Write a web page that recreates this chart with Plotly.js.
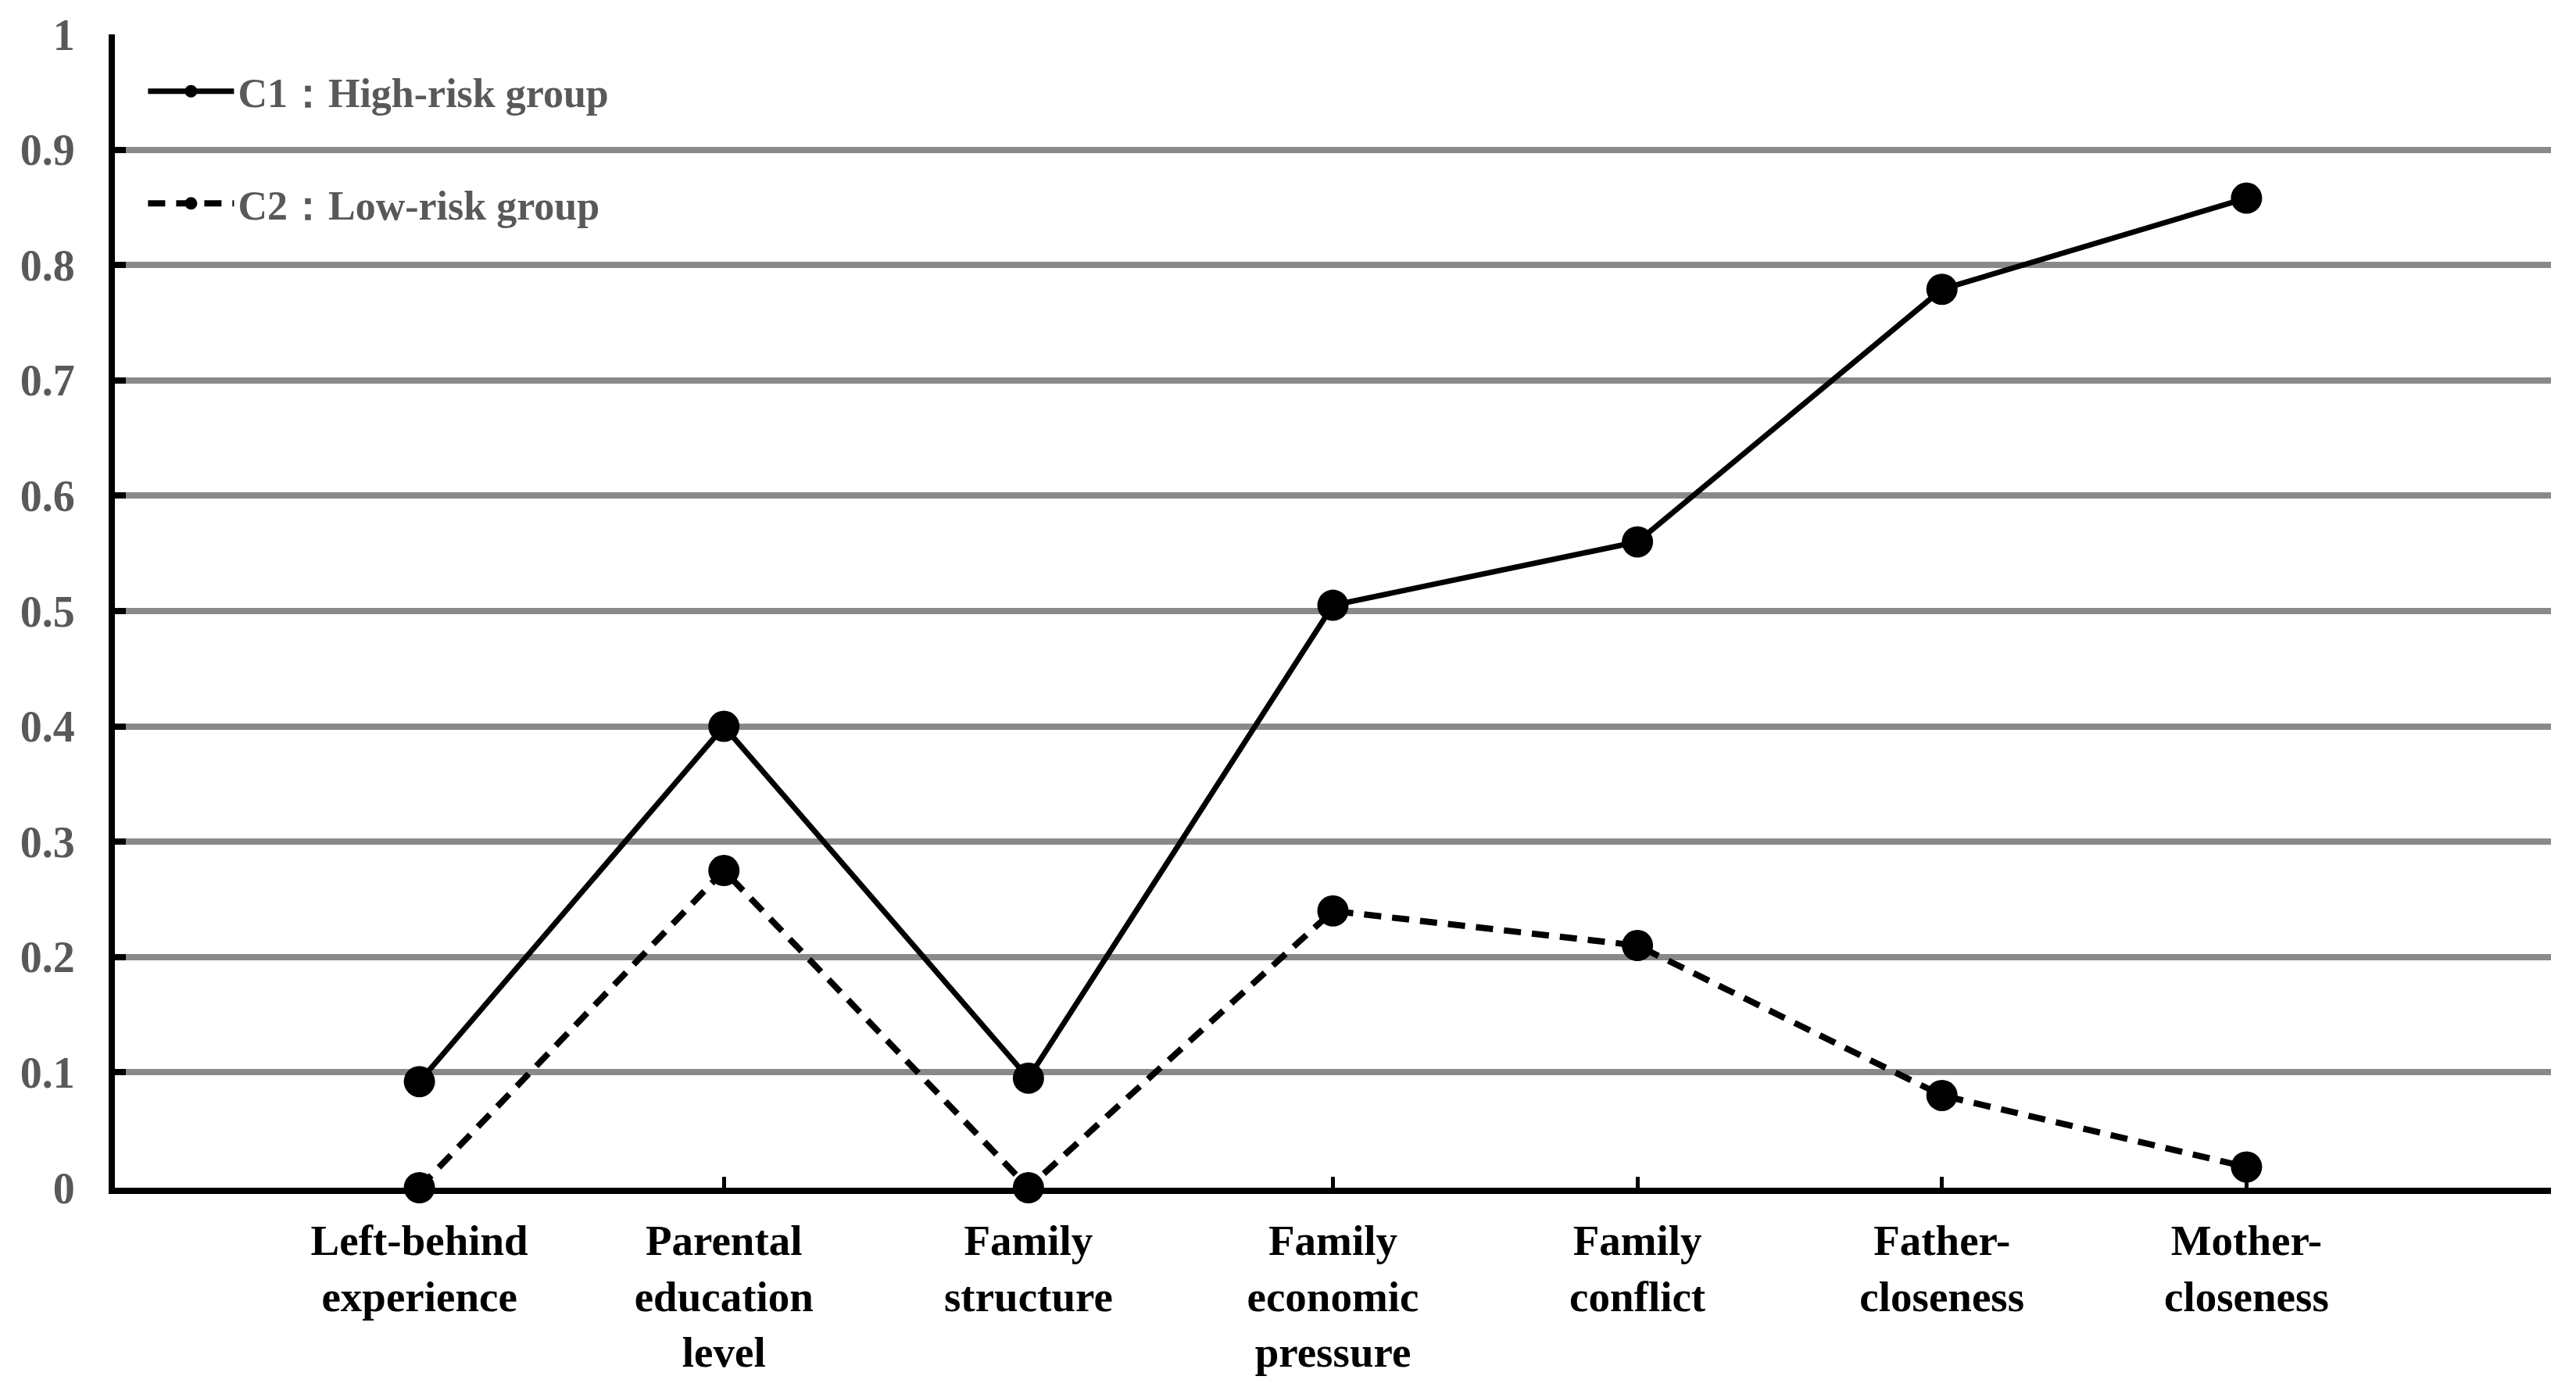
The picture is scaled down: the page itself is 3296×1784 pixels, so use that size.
<!DOCTYPE html>
<html>
<head>
<meta charset="utf-8">
<script src="https://cdn.plot.ly/plotly-3.0.1.min.js"></script>
<style>html,body{margin:0;padding:0;background:#fff;}#chart{width:3296px;height:1784px;}</style>
</head>
<body>
<div id="chart"></div>
<script>
const categories = [
  "Left-behind<br>experience",
  "Parental<br>education<br>level",
  "Family<br>structure",
  "Family<br>economic<br>pressure",
  "Family<br>conflict",
  "Father-<br>closeness",
  "Mother-<br>closeness"
];
const c1Name = "C1：High-risk group";
const c2Name = "C2：Low-risk group";
const c1Values = [0.092, 0.400, 0.095, 0.505, 0.560, 0.779, 0.858];
const c2Values = [0.000, 0.275, 0.000, 0.240, 0.210, 0.080, 0.018];
const yTickVals = [0, 0.1, 0.2, 0.3, 0.4, 0.5, 0.6, 0.7, 0.8, 0.9, 1];
const yTickText = ["0", "0.1", "0.2", "0.3", "0.4", "0.5", "0.6", "0.7", "0.8", "0.9", "1"];

const FONT = "Liberation Serif, Times New Roman, serif";

const traces = [
  {
    x: categories, y: c1Values, name: c1Name, type: "scatter", mode: "lines+markers",
    line: {color: "#000000", width: 7},
    marker: {color: "#000000", size: 40},
    cliponaxis: false, legendgroup: "g1"
  },
  {
    x: categories, y: c2Values, name: c2Name, type: "scatter", mode: "lines+markers",
    line: {color: "#000000", width: 8, dash: "22px,14px"},
    marker: {color: "#000000", size: 40},
    cliponaxis: false, legendgroup: "g2"
  }
];

const layout = {
  width: 3296, height: 1784,
  margin: {l: 147, r: 32, t: 44, b: 264},
  paper_bgcolor: "#ffffff", plot_bgcolor: "#ffffff",
  showlegend: true,
  legend: {
    x: 0.012, y: 0.978, xanchor: "left", yanchor: "top",
    font: {family: FONT, size: 52, color: "#595959", weight: "bold"},
    bgcolor: "rgba(0,0,0,0)",
    traceorder: "grouped", tracegroupgap: 73,
    itemwidth: 110, itemsizing: "trace"
  },
  xaxis: {
    type: "category", range: [-1, 7],
    showline: true, linecolor: "#000000", linewidth: 8,
    ticks: "inside", ticklen: 14, tickwidth: 5, tickcolor: "#000000",
    showgrid: false, zeroline: false,
    tickfont: {family: FONT, size: 55, color: "#000000", weight: "bold"},
    ticklabelstandoff: 12
  },
  yaxis: {
    range: [0, 1], tickmode: "array", tickvals: yTickVals, ticktext: yTickText,
    showline: true, linecolor: "#000000", linewidth: 8,
    ticks: "inside", ticklen: 14, tickwidth: 8, tickcolor: "#000000",
    showgrid: true, gridcolor: "#898989", gridwidth: 8,
    zeroline: false,
    tickfont: {family: FONT, size: 56, color: "#595959", weight: "bold"},
    ticklabelstandoff: 32
  }
};

Plotly.newPlot("chart", traces, layout, {staticPlot: true, displayModeBar: false});
</script>
</body>
</html>
